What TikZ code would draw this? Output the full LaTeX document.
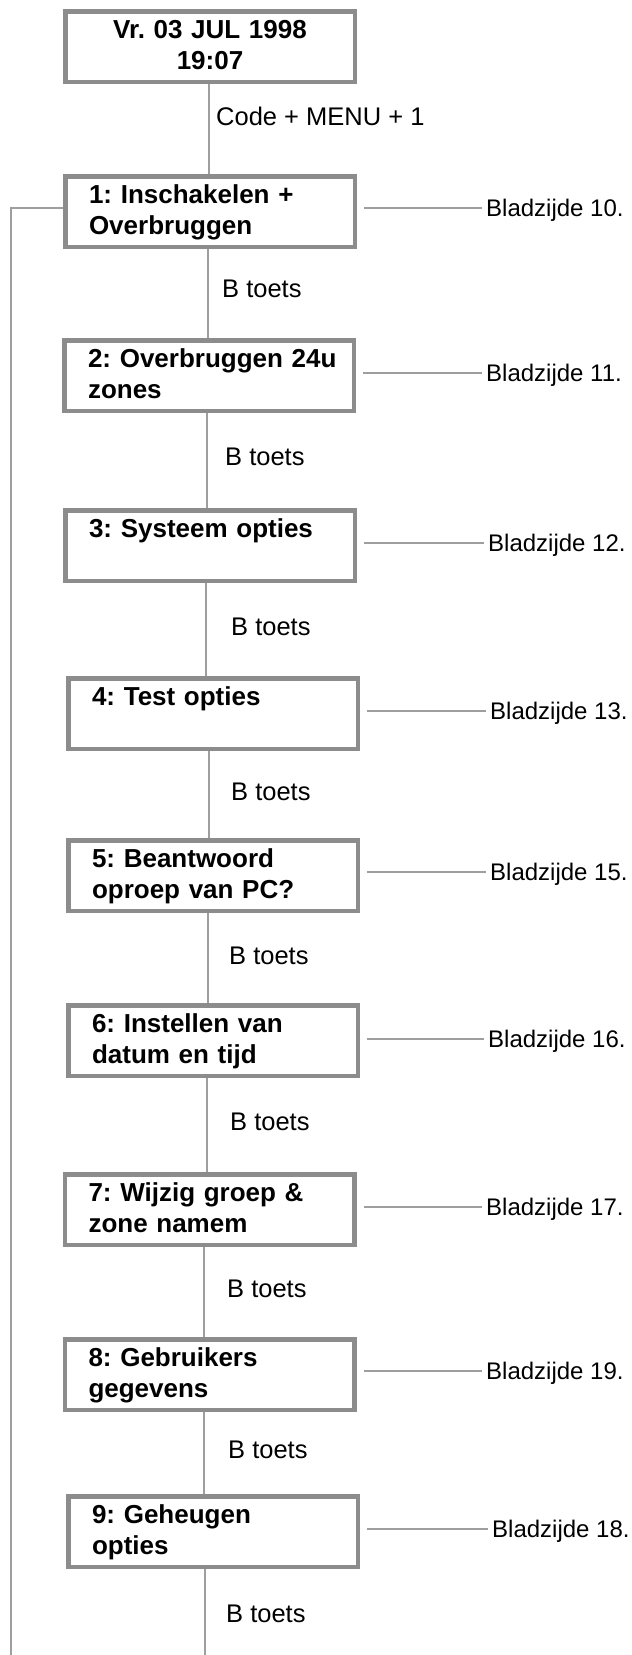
\documentclass[tikz,border=0pt]{standalone}
\usepackage{fontspec}
\setmainfont{Liberation Sans}
\definecolor{boxgray}{RGB}{140,140,140}
\definecolor{linegray}{RGB}{158,158,158}
\frenchspacing
\begin{document}
\begin{tikzpicture}[
    x = 1pt, y = -1pt,
    menubox/.style = {rectangle, draw = boxgray, line width = 4.5pt,
      text width = 242pt, align = left,
      inner xsep = 23.75pt, inner ysep = 6.75pt,
      text height = 20pt, text depth = 37pt,
      font = \fontsize{26}{31.5}\selectfont\bfseries},
    link/.style = {-, draw = linegray, line width = 1.1pt},
    keytext/.style = {anchor = base west, inner sep = 0pt,
      font = \fontsize{25.5}{30}\selectfont},
    pageref/.style = {anchor = west, inner xsep = 4pt, inner ysep = 0pt,
      text height = 17pt, text depth = 1pt,
      font = \fontsize{24}{28}\selectfont}
  ]
  \useasboundingbox (0, 0) rectangle (632, 1655);

  % menu boxes
  % ----------
  \node [menubox, align = center] (m0) at (210, 46.5) {Vr. 03 JUL 1998\\19:07};
  \node [menubox] (m1) at (210, 211.5) {1: Inschakelen +\\Overbruggen};
  \node [menubox] (m2) at (209, 375.5) {\mbox{2: Overbruggen 24u}\\zones};
  \node [menubox] (m3) at (210, 545.5) {3: Systeem opties};
  \node [menubox] (m4) at (213, 713.5) {4: Test opties};
  \node [menubox] (m5) at (213, 875.5) {5: Beantwoord\\oproep van PC?};
  \node [menubox] (m6) at (213, 1040.5) {6: Instellen van\\datum en tijd};
  \node [menubox] (m7) at (209.5, 1209.5) {7: Wijzig groep \&\\zone namem};
  \node [menubox] (m8) at (209.5, 1374.5) {8: Gebruikers\\gegevens};
  \node [menubox] (m9) at (213, 1531.5) {9: Geheugen\\opties};

  % page references
  % ---------------
  \node [pageref] (p1) at (482, 208) {Bladzijde 10.};
  \node [pageref] (p2) at (482, 373) {Bladzijde 11.};
  \node [pageref] (p3) at (484, 543) {Bladzijde 12.};
  \node [pageref] (p4) at (486, 711) {Bladzijde 13.};
  \node [pageref] (p5) at (486, 872) {Bladzijde 15.};
  \node [pageref] (p6) at (484, 1039) {Bladzijde 16.};
  \node [pageref] (p7) at (482, 1207) {Bladzijde 17.};
  \node [pageref] (p8) at (482, 1371) {Bladzijde 19.};
  \node [pageref] (p9) at (488, 1529) {Bladzijde 18.};

  \draw [link, shorten > = 7pt] (p1.west) -- (p1.west -| m1.east);
  \draw [link, shorten > = 7pt] (p2.west) -- (p2.west -| m2.east);
  \draw [link, shorten > = 7pt] (p3.west) -- (p3.west -| m3.east);
  \draw [link, shorten > = 7pt] (p4.west) -- (p4.west -| m4.east);
  \draw [link, shorten > = 7pt] (p5.west) -- (p5.west -| m5.east);
  \draw [link, shorten > = 7pt] (p6.west) -- (p6.west -| m6.east);
  \draw [link, shorten > = 7pt] (p7.west) -- (p7.west -| m7.east);
  \draw [link, shorten > = 7pt] (p8.west) -- (p8.west -| m8.east);
  \draw [link, shorten > = 7pt] (p9.west) -- (p9.west -| m9.east);

  % key presses
  % -----------
  \node [keytext] (k0) at (216, 125) {Code + MENU + 1};
  \node [keytext] (k1) at (222, 297) {B toets};
  \node [keytext] (k2) at (225, 465) {B toets};
  \node [keytext] (k3) at (231, 635) {B toets};
  \node [keytext] (k4) at (231, 800) {B toets};
  \node [keytext] (k5) at (229, 964) {B toets};
  \node [keytext] (k6) at (230, 1130) {B toets};
  \node [keytext] (k7) at (227, 1297) {B toets};
  \node [keytext] (k8) at (228, 1458) {B toets};
  \node [keytext] (k9) at (226, 1622) {B toets};

  \draw [link] (m0.south -| 209, 0) -- (m1.north -| 209, 0);
  \draw [link] (m1.south -| 208, 0) -- (m2.north -| 208, 0);
  \draw [link] (m2.south -| 207, 0) -- (m3.north -| 207, 0);
  \draw [link] (m3.south -| 206, 0) -- (m4.north -| 206, 0);
  \draw [link] (m4.south -| 209, 0) -- (m5.north -| 209, 0);
  \draw [link] (m5.south -| 208, 0) -- (m6.north -| 208, 0);
  \draw [link] (m6.south -| 207, 0) -- (m7.north -| 207, 0);
  \draw [link] (m7.south -| 204, 0) -- (m8.north -| 204, 0);
  \draw [link] (m8.south -| 204, 0) -- (m9.north -| 204, 0);

  % way out
  % -------
  \coordinate (foot) at (205, 1655);
  \coordinate (back) at (11, 1655);
  \draw [link] (m9.south -| foot) -- (foot);
  \draw [link] (m1.west |- p1.west) -| (back);
\end{tikzpicture}
\end{document}
